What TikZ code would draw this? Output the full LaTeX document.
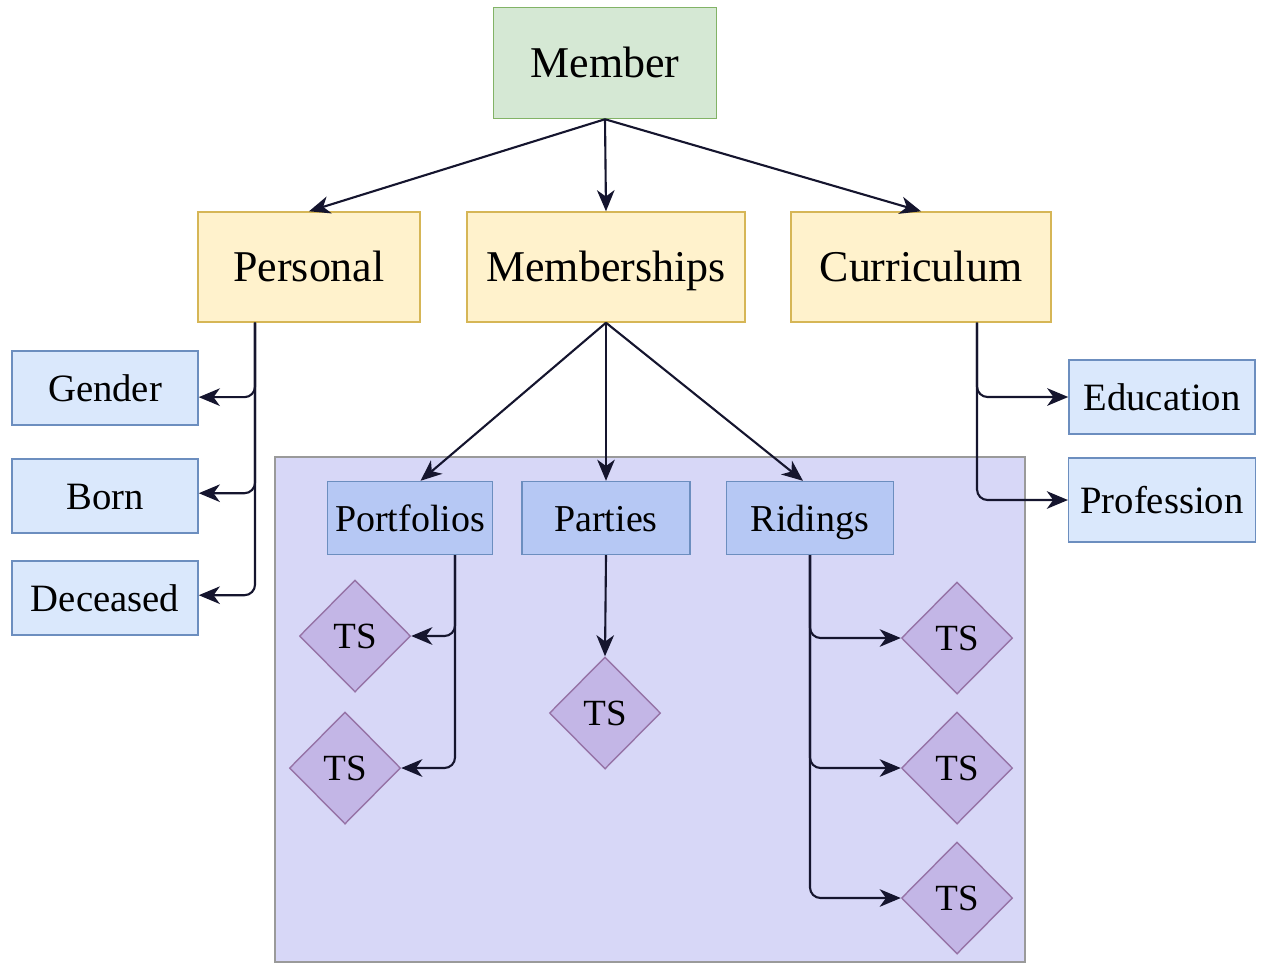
\documentclass[tikz,border=0pt]{standalone}
\usepackage{fontspec}
\setmainfont{Liberation Serif}
\usepackage{xcolor}
\usetikzlibrary{shapes.geometric}
\usetikzlibrary{arrows.meta,calc}
\definecolor{memberfill}{HTML}{D5E8D4}
\definecolor{memberdraw}{HTML}{82B366}
\definecolor{groupfill}{HTML}{FFF2CC}
\definecolor{groupdraw}{HTML}{D6B656}
\definecolor{fieldfill}{HTML}{DAE8FC}
\definecolor{fielddraw}{HTML}{6C8EBF}
\definecolor{tablefill}{HTML}{B6C8F4}
\definecolor{zonefill}{HTML}{D7D7F7}
\definecolor{zonedraw}{HTML}{9A9A9A}
\definecolor{tsfill}{HTML}{C3B6E6}
\definecolor{tsdraw}{HTML}{9673A6}
\definecolor{linkcol}{HTML}{15152E}
\tikzset{
	memberbox/.style={draw=memberdraw,fill=memberfill,minimum width=2.23cm,minimum height=1.11cm,text height=9pt,text depth=0.6pt,font=\fontsize{12.5}{15}\selectfont},
	groupbox/.style={draw=groupdraw,fill=groupfill,minimum height=1.1cm,text height=9pt,text depth=0.6pt,font=\fontsize{12.5}{15}\selectfont},
	fieldbox/.style={draw=fielddraw,fill=fieldfill,minimum width=1.86cm,minimum height=0.74cm,text height=8pt,text depth=0.6pt,font=\fontsize{11}{13}\selectfont},
	tablebox/.style={draw=fielddraw,fill=tablefill,minimum height=0.73cm,text height=8pt,text depth=0.6pt,font=\fontsize{10.8}{13}\selectfont},
	tsbox/.style={diamond,draw=tsdraw,fill=tsfill,inner sep=0pt,minimum width=1.11cm,minimum height=1.12cm,font=\fontsize{10.5}{12}\selectfont},
	link/.style={draw=linkcol,line width=0.6pt,-{Stealth[length=6pt,width=5pt,inset=1.8pt]}},
	branch/.style={link,rounded corners=3pt}
}

\begin{document}
\begin{tikzpicture}[x=0.01cm,y=-0.01cm]
		\useasboundingbox (0,0) rectangle (1264,966);
		\draw[zonedraw,fill=zonefill] (275,457) rectangle (1025,962);
		% top levels
		\node[memberbox] (member) at (605,63) {Member};
		\node[groupbox,minimum width=2.22cm] (personal) at (309,267) {Personal};
		\node[groupbox,minimum width=2.78cm] (memberships) at (606,267) {Memberships};
		\node[groupbox,minimum width=2.60cm] (curriculum) at (921,267) {Curriculum};
		% fields
		\node[fieldbox] (gender) at (105,388) {Gender};
		\node[fieldbox] (born) at (105,496) {Born};
		\node[fieldbox] (deceased) at (105,598) {Deceased};
		\node[fieldbox] (education) at (1162,397) {Education};
		\node[fieldbox,minimum height=0.84cm] (profession) at (1162,500) {Profession};
		% tables
		\node[tablebox,minimum width=1.65cm,inner xsep=2pt] (portfolios) at (410,518) {Portfolios};
		\node[tablebox,minimum width=1.68cm] (parties) at (606,518) {Parties};
		\node[tablebox,minimum width=1.67cm] (ridings) at (810,518) {Ridings};
		\node[tsbox] (tsportA) at (355,636) {TS};
		\node[tsbox] (tsportB) at (345,768) {TS};
		\node[tsbox] (tsparty) at (605,713) {TS};
		\node[tsbox] (tsridA) at (957,638) {TS};
		\node[tsbox] (tsridB) at (957,768) {TS};
		\node[tsbox] (tsridC) at (957,898) {TS};
		% connectors
		\draw[link] (member.south) -- (personal.north);
		\draw[link] (member.south) -- (memberships.north);
		\draw[link] (member.south) -- (curriculum.north);
		\draw[branch] (personal.south -| 255,0) |- ([yshift=-2.6pt]gender.east);
		\draw[branch] (personal.south -| 255,0) |- ([yshift=0.8pt]born.east);
		\draw[branch] (personal.south -| 255,0) |- ([yshift=0.8pt]deceased.east);
		\draw[branch] (curriculum.south -| 977,0) |- (education.west);
		\draw[branch] (curriculum.south -| 977,0) |- (profession.west);
		\draw[link] (memberships.south) -- ([xshift=3pt]portfolios.north);
		\draw[link] (memberships.south) -- (parties.north);
		\draw[link] (memberships.south) -- ([xshift=-2pt]ridings.north);
		\draw[branch] (portfolios.south -| 455,0) |- (tsportA.east);
		\draw[branch] (portfolios.south -| 455,0) |- (tsportB.east);
		\draw[link] (parties.south) -- (tsparty.north);
		\draw[branch] (ridings.south) |- (tsridA.west);
		\draw[branch] (ridings.south) |- (tsridB.west);
		\draw[branch] (ridings.south) |- (tsridC.west);
	\end{tikzpicture}
\end{document}
